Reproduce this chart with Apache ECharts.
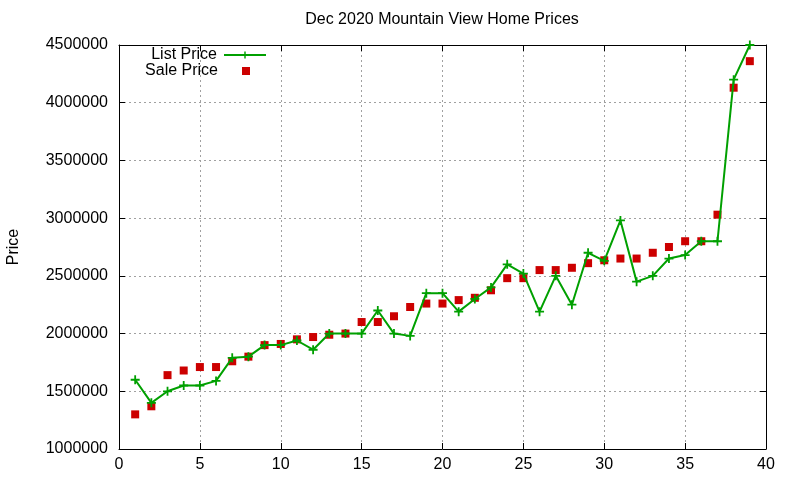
<!DOCTYPE html>
<html>
<head>
<meta charset="utf-8">
<script src="https://cdn.jsdelivr.net/npm/echarts@6/dist/echarts.min.js"></script>
<style>
  html, body { margin: 0; padding: 0; background: #fff; }
  #chart { width: 800px; height: 480px; }
</style>
</head>
<body>
<div id="chart"></div>
<script>
// listing index (1..39)
var days = [1,2,3,4,5,6,7,8,9,10,11,12,13,14,15,16,17,18,19,20,
            21,22,23,24,25,26,27,28,29,30,31,32,33,34,35,36,37,38,39];

var listPrice = [1600000,1400000,1500000,1550000,1550000,1590000,1790000,1800000,1900000,1900000,
                 1940000,1860000,2000000,2000000,2000000,2200000,2000000,1980000,2350000,2350000,
                 2190000,2300000,2400000,2600000,2520000,2190000,2500000,2250000,2700000,2630000,
                 2980000,2450000,2500000,2650000,2680000,2800000,2800000,4200000,4500000];

var salePrice = [1300000,1370000,1640000,1680000,1710000,1710000,1760000,1800000,1900000,1910000,
                 1950000,1970000,1990000,2000000,2100000,2100000,2150000,2230000,2260000,2260000,
                 2290000,2310000,2375000,2480000,2480000,2550000,2550000,2570000,2610000,2635000,
                 2650000,2650000,2700000,2750000,2800000,2800000,3030000,4130000,4360000];

var xTicks = {min: 0, max: 40, step: 5};
var yTicks = {min: 1000000, max: 4500000, step: 500000};

var FONT = 'Liberation Sans';
var plus = 'path://M0,3.6H9V5.4H0Z M3.6,0H5.4V9H3.6Z';
// small square in the middle of a 42x8 legend slot (tiny dots keep the bounds)
var legendSquare = 'path://M0,4L0.01,4L0.01,4.01Z M17,0H25V8H17Z M41.99,4L42,4L42,4.01Z';

function pairs(xs, ys) {
  return xs.map(function (x, i) { return [x, ys[i]]; });
}

var gridLine = {show: true, lineStyle: {color: '#a0a0a0', type: [2, 3], width: 1}};
var border = {show: true, onZero: false, lineStyle: {color: '#000', width: 1}};
var tick = {show: true, inside: true, length: 6, lineStyle: {color: '#000'}};

var chart = echarts.init(document.getElementById('chart'));
chart.setOption({
  animation: false,
  textStyle: {fontFamily: FONT},
  title: {
    text: 'Dec 2020 Mountain View Home Prices',
    left: 442, top: 12, padding: 0, textAlign: 'center',
    textStyle: {fontFamily: FONT, fontSize: 16, fontWeight: 'normal', color: '#000'}
  },
  legend: [
    {
      data: ['List Price'], right: 533, top: 47, align: 'right',
      itemWidth: 42, itemHeight: 9, itemGap: 0, padding: 0,
      textStyle: {fontFamily: FONT, fontSize: 16, color: '#000', padding: [0, 2, 0, 0]}
    },
    {
      data: [{name: 'Sale Price', icon: legendSquare}], right: 533, top: 63, align: 'right',
      itemWidth: 42, itemHeight: 8, itemGap: 0, padding: 0, symbolKeepAspect: false,
      textStyle: {fontFamily: FONT, fontSize: 16, color: '#000', padding: [0, 2, 0, 0]}
    }
  ],
  grid: {left: 119, right: 34, top: 45, bottom: 31, outerBoundsMode: 'none'},
  xAxis: [
    {
      type: 'value', min: xTicks.min, max: xTicks.max, interval: xTicks.step,
      axisLine: border, axisTick: tick, splitLine: gridLine,
      axisLabel: {fontFamily: FONT, fontSize: 16, color: '#000', margin: 8}
    },
    {
      type: 'value', position: 'top', min: xTicks.min, max: xTicks.max, interval: xTicks.step,
      axisLine: border, axisTick: tick, splitLine: {show: false}, axisLabel: {show: false}
    }
  ],
  yAxis: [
    {
      type: 'value', min: yTicks.min, max: yTicks.max, interval: yTicks.step,
      name: 'Price', nameLocation: 'middle', nameGap: 97, nameRotate: 90,
      nameTextStyle: {fontFamily: FONT, fontSize: 16, color: '#000'},
      axisLine: border, axisTick: tick, splitLine: gridLine,
      axisLabel: {
        fontFamily: FONT, fontSize: 16, color: '#000', margin: 11,
        formatter: function (v) { return String(v); }
      }
    },
    {
      type: 'value', position: 'right', min: yTicks.min, max: yTicks.max, interval: yTicks.step,
      axisLine: border, axisTick: tick, splitLine: {show: false}, axisLabel: {show: false}
    }
  ],
  series: [
    {
      name: 'List Price',
      type: 'line',
      data: pairs(days, listPrice),
      color: '#00a000',
      symbol: plus, symbolSize: 9, showAllSymbol: true,
      lineStyle: {width: 2, color: '#00a000'},
      itemStyle: {color: '#00a000'}
    },
    {
      name: 'Sale Price',
      type: 'scatter',
      data: pairs(days, salePrice),
      color: '#cc0000',
      symbol: 'rect', symbolSize: 8,
      itemStyle: {color: '#cc0000', opacity: 1}
    }
  ]
});
</script>
</body>
</html>
